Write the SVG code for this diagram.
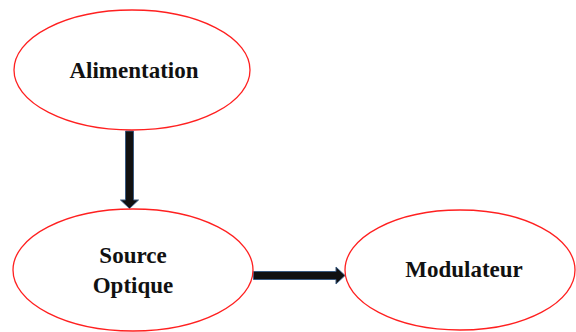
<svg xmlns="http://www.w3.org/2000/svg" width="576" height="332" viewBox="0 0 576 332">
<style>
.node{fill:#fff;stroke:#ff2020;stroke-width:1.3}
.lbl{font-family:"Liberation Serif","Times New Roman",serif;font-weight:bold;font-size:23px;fill:#111;text-anchor:middle}
.arrow{fill:#111;stroke:#3a5a80;stroke-width:1;stroke-linejoin:miter}
</style>
<rect width="576" height="332" fill="#fff"/>
<g id="connectors">
<path class="arrow" d="M125.5,131 H133.5 V200 H138.5 L129.5,208.5 L120.5,200 H125.5 Z"/>
<path class="arrow" d="M253.5,271.5 H336 V267 L345,275.5 L336,284 V279.5 H253.5 Z"/>
</g>
<g id="alimentation">
<ellipse class="node" cx="132" cy="70" rx="118" ry="60"/>
<text class="lbl" x="134" y="78">Alimentation</text>
</g>
<g id="source-optique">
<ellipse class="node" cx="133" cy="270" rx="120" ry="61"/>
<text class="lbl" x="133" y="263">Source</text>
<text class="lbl" x="133" y="293">Optique</text>
</g>
<g id="modulateur">
<ellipse class="node" cx="460" cy="270" rx="115" ry="60"/>
<text class="lbl" x="464" y="277">Modulateur</text>
</g>
</svg>
